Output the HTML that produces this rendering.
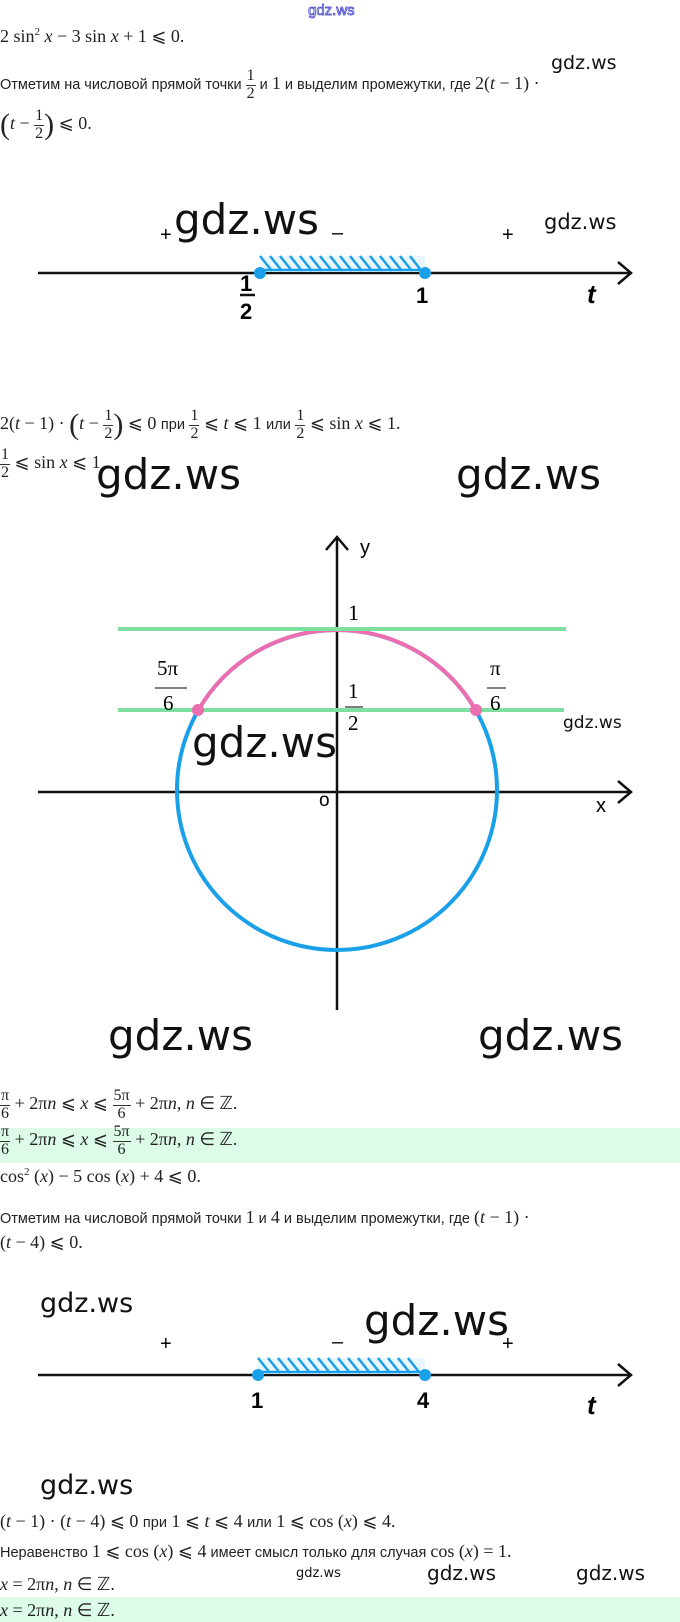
<!DOCTYPE html>
<html><head><meta charset="utf-8"><style>
body{margin:0;width:680px;height:1622px;background:#fff;position:relative;overflow:hidden;font-family:"Liberation Sans",sans-serif;color:#222}
.a{position:absolute;white-space:nowrap}
.m{font-family:"Liberation Serif",serif;font-size:18px}
.i{font-style:italic}
.r{font-size:14.5px;font-family:"Liberation Sans",sans-serif}
.fr{display:inline-block;vertical-align:middle;text-align:center;line-height:1;font-size:16px}
.fr span{display:block}
.fr .n{border-bottom:1px solid #333;padding:0 1px 1px}
.g{font-family:"DejaVu Sans","Liberation Sans",sans-serif;color:#111}
.band{position:absolute;left:0;width:680px;background:#dcfbe9}
</style></head><body>
<div class="a" style="left:308px;top:2px;font-size:15px;color:#eef;-webkit-text-stroke:0.7px #3535c8">gdz.ws</div>
<div class="a m" style="left:0;top:26px">2 sin<sup style="font-size:11px">2</sup> <span class="i">x</span> − 3 sin <span class="i">x</span> + 1 ⩽ 0.</div>
<div class="a g" style="left:551px;top:52px;font-size:19px">gdz.ws</div>
<div class="a r" style="left:0;top:68px">Отметим на числовой прямой точки <span class="fr m"><span class="n">1</span><span>2</span></span> и <span class="m">1</span> и выделим промежутки, где <span class="m">2(<span class="i">t</span> − 1) ·</span></div>
<div class="a m" style="left:0;top:108px"><span style="font-size:30px;vertical-align:middle">(</span><span class="i">t</span> − <span class="fr"><span class="n">1</span><span>2</span></span><span style="font-size:30px;vertical-align:middle">)</span> ⩽ 0.</div>

<svg class="a" style="left:0;top:184px" width="680" height="150">
<line x1="38" y1="89" x2="630" y2="89" stroke="#111" stroke-width="2.5"/>
<polyline points="618,78 631,89 618,100" fill="none" stroke="#111" stroke-width="2.5"/>
<rect x="260" y="72" width="165" height="16" fill="#eaf6fd"/>
<g stroke="#1aa0e8" stroke-width="2.5">
<line x1="260" y1="72" x2="272" y2="87"/><line x1="270" y1="72" x2="282" y2="87"/><line x1="280" y1="72" x2="292" y2="87"/><line x1="290" y1="72" x2="302" y2="87"/><line x1="300" y1="72" x2="312" y2="87"/><line x1="310" y1="72" x2="322" y2="87"/><line x1="320" y1="72" x2="332" y2="87"/><line x1="330" y1="72" x2="342" y2="87"/><line x1="340" y1="72" x2="352" y2="87"/><line x1="350" y1="72" x2="362" y2="87"/><line x1="360" y1="72" x2="372" y2="87"/><line x1="370" y1="72" x2="382" y2="87"/><line x1="380" y1="72" x2="392" y2="87"/><line x1="390" y1="72" x2="402" y2="87"/><line x1="400" y1="72" x2="412" y2="87"/><line x1="410" y1="72" x2="420" y2="85"/>
<line x1="260" y1="86" x2="425" y2="86"/></g>
<circle cx="260" cy="89" r="6" fill="#1aa0e8"/><circle cx="425" cy="89" r="6" fill="#1aa0e8"/>
<text x="160" y="57" font-size="20" font-family="Liberation Sans">+</text>
<text x="332" y="55" font-size="20" font-family="Liberation Sans">–</text>
<text x="502" y="57" font-size="20" font-family="Liberation Sans">+</text>
<text x="240" y="107" font-size="22" font-weight="bold" font-family="Liberation Sans">1</text>
<line x1="240" y1="111" x2="255" y2="111" stroke="#111" stroke-width="2.5"/>
<text x="240" y="135" font-size="22" font-weight="bold" font-family="Liberation Sans">2</text>
<text x="416" y="119" font-size="22" font-weight="bold" font-family="Liberation Sans">1</text>
<text x="587" y="119" font-size="26" font-weight="bold" font-style="italic" font-family="Liberation Sans">t</text>
<text x="174" y="50" font-size="42" font-family="DejaVu Sans" fill="#111">gdz.ws</text>
<text x="544" y="45" font-size="21" font-family="DejaVu Sans" fill="#111">gdz.ws</text>
</svg>

<div class="a m" style="left:0;top:408px"><span>2(<span class="i">t</span> − 1) · </span><span style="font-size:30px;vertical-align:middle">(</span><span class="i">t</span> − <span class="fr"><span class="n">1</span><span>2</span></span><span style="font-size:30px;vertical-align:middle">)</span> ⩽ 0 <span class="r">при</span> <span class="fr"><span class="n">1</span><span>2</span></span> ⩽ <span class="i">t</span> ⩽ 1 <span class="r">или</span> <span class="fr"><span class="n">1</span><span>2</span></span> ⩽ sin <span class="i">x</span> ⩽ 1.</div>
<div class="a m" style="left:0;top:447px"><span class="fr"><span class="n">1</span><span>2</span></span> ⩽ sin <span class="i">x</span> ⩽ 1</div>
<div class="a g" style="left:96px;top:450px;font-size:42px">gdz.ws</div>
<div class="a g" style="left:456px;top:450px;font-size:42px">gdz.ws</div>

<svg class="a" style="left:0;top:510px" width="680" height="500">
<line x1="38" y1="282" x2="630" y2="282" stroke="#111" stroke-width="2.5"/>
<polyline points="618,271 631,282 618,293" fill="none" stroke="#111" stroke-width="2.5"/>
<line x1="337" y1="28" x2="337" y2="500" stroke="#111" stroke-width="2.5"/>
<polyline points="326,40 337,27 348,40" fill="none" stroke="#111" stroke-width="2.5"/>
<circle cx="337" cy="280" r="160" fill="none" stroke="#1aa0e8" stroke-width="4"/>
<path d="M198.4,200 A160,160 0 0 1 475.6,200" fill="none" stroke="#ec6db0" stroke-width="4"/>
<line x1="118" y1="119" x2="566" y2="119" stroke="#7ee0a0" stroke-width="4"/>
<line x1="118" y1="200" x2="564" y2="200" stroke="#7ee0a0" stroke-width="4"/>
<circle cx="198" cy="200" r="6" fill="#ec6db0"/><circle cx="476" cy="200" r="6" fill="#ec6db0"/>
<text x="360" y="44" font-size="20" font-family="Liberation Sans">y</text>
<text x="348" y="110" font-size="22" font-family="Liberation Serif">1</text>
<text x="157" y="165" font-size="21" font-family="Liberation Serif">5π</text>
<line x1="155" y1="178" x2="187" y2="178" stroke="#333" stroke-width="1.2"/>
<text x="163" y="200" font-size="21" font-family="Liberation Serif">6</text>
<text x="348" y="188" font-size="21" font-family="Liberation Serif">1</text>
<line x1="345" y1="197" x2="363" y2="197" stroke="#333" stroke-width="1.2"/>
<text x="348" y="220" font-size="21" font-family="Liberation Serif">2</text>
<text x="490" y="165" font-size="21" font-family="Liberation Serif">π</text>
<line x1="487" y1="178" x2="506" y2="178" stroke="#333" stroke-width="1.2"/>
<text x="490" y="200" font-size="21" font-family="Liberation Serif">6</text>
<text x="319" y="296" font-size="19" font-family="Liberation Sans">o</text>
<text x="596" y="302" font-size="20" font-family="Liberation Sans">x</text>
<text x="192" y="247" font-size="42" font-family="DejaVu Sans" fill="#111">gdz.ws</text>
<text x="563" y="218" font-size="17" font-family="DejaVu Sans" fill="#111">gdz.ws</text>
</svg>
<div class="a g" style="left:108px;top:1011px;font-size:42px">gdz.ws</div>
<div class="a g" style="left:478px;top:1011px;font-size:42px">gdz.ws</div>

<div class="a m" style="left:0;top:1088px"><span class="fr"><span class="n">π</span><span>6</span></span> + 2π<span class="i">n</span> ⩽ <span class="i">x</span> ⩽ <span class="fr"><span class="n">5π</span><span>6</span></span> + 2π<span class="i">n</span>, <span class="i">n</span> ∈ ℤ.</div>
<div class="band" style="top:1128px;height:35px"></div>
<div class="a m" style="left:0;top:1124px"><span class="fr"><span class="n">π</span><span>6</span></span> + 2π<span class="i">n</span> ⩽ <span class="i">x</span> ⩽ <span class="fr"><span class="n">5π</span><span>6</span></span> + 2π<span class="i">n</span>, <span class="i">n</span> ∈ ℤ.</div>
<div class="a m" style="left:0;top:1166px">cos<sup style="font-size:11px">2</sup> (<span class="i">x</span>) − 5 cos (<span class="i">x</span>) + 4 ⩽ 0.</div>
<div class="a r" style="left:0;top:1207px">Отметим на числовой прямой точки <span class="m">1</span> и <span class="m">4</span> и выделим промежутки, где <span class="m">(<span class="i">t</span> − 1) ·</span></div>
<div class="a m" style="left:0;top:1232px">(<span class="i">t</span> − 4) ⩽ 0.</div>

<svg class="a" style="left:0;top:1280px" width="680" height="150">
<line x1="38" y1="95" x2="630" y2="95" stroke="#111" stroke-width="2.5"/>
<polyline points="618,84 631,95 618,106" fill="none" stroke="#111" stroke-width="2.5"/>
<rect x="258" y="78" width="167" height="16" fill="#eaf6fd"/>
<g stroke="#1aa0e8" stroke-width="2.5">
<line x1="258" y1="78" x2="270" y2="93"/><line x1="268" y1="78" x2="280" y2="93"/><line x1="278" y1="78" x2="290" y2="93"/><line x1="288" y1="78" x2="300" y2="93"/><line x1="298" y1="78" x2="310" y2="93"/><line x1="308" y1="78" x2="320" y2="93"/><line x1="318" y1="78" x2="330" y2="93"/><line x1="328" y1="78" x2="340" y2="93"/><line x1="338" y1="78" x2="350" y2="93"/><line x1="348" y1="78" x2="360" y2="93"/><line x1="358" y1="78" x2="370" y2="93"/><line x1="368" y1="78" x2="380" y2="93"/><line x1="378" y1="78" x2="390" y2="93"/><line x1="388" y1="78" x2="400" y2="93"/><line x1="398" y1="78" x2="410" y2="93"/><line x1="408" y1="78" x2="419" y2="92"/>
<line x1="258" y1="92" x2="425" y2="92"/></g>
<circle cx="258" cy="95" r="6" fill="#1aa0e8"/><circle cx="425" cy="95" r="6" fill="#1aa0e8"/>
<text x="160" y="70" font-size="20" font-family="Liberation Sans">+</text>
<text x="332" y="68" font-size="20" font-family="Liberation Sans">–</text>
<text x="502" y="70" font-size="20" font-family="Liberation Sans">+</text>
<text x="251" y="128" font-size="22" font-weight="bold" font-family="Liberation Sans">1</text>
<text x="417" y="128" font-size="22" font-weight="bold" font-family="Liberation Sans">4</text>
<text x="587" y="134" font-size="26" font-weight="bold" font-style="italic" font-family="Liberation Sans">t</text>
<text x="40" y="32" font-size="27" font-family="DejaVu Sans" fill="#111">gdz.ws</text>
<text x="364" y="55" font-size="42" font-family="DejaVu Sans" fill="#111">gdz.ws</text>
</svg>
<div class="a g" style="left:40px;top:1470px;font-size:27px">gdz.ws</div>

<div class="a m" style="left:0;top:1511px">(<span class="i">t</span> − 1) · (<span class="i">t</span> − 4) ⩽ 0 <span class="r">при</span> 1 ⩽ <span class="i">t</span> ⩽ 4 <span class="r">или</span> 1 ⩽ cos (<span class="i">x</span>) ⩽ 4.</div>
<div class="a r" style="left:0;top:1541px">Неравенство <span class="m">1 ⩽ cos (<span class="i">x</span>) ⩽ 4</span> имеет смысл только для случая <span class="m">cos (<span class="i">x</span>) = 1.</span></div>
<div class="a g" style="left:296px;top:1566px;font-size:13px">gdz.ws</div>
<div class="a g" style="left:427px;top:1561px;font-size:20px">gdz.ws</div>
<div class="a g" style="left:576px;top:1561px;font-size:20px">gdz.ws</div>
<div class="a m" style="left:0;top:1574px"><span class="i">x</span> = 2π<span class="i">n</span>, <span class="i">n</span> ∈ ℤ.</div>
<div class="band" style="top:1597px;height:25px"></div>
<div class="a m" style="left:0;top:1600px"><span class="i">x</span> = 2π<span class="i">n</span>, <span class="i">n</span> ∈ ℤ.</div>
</body></html>
